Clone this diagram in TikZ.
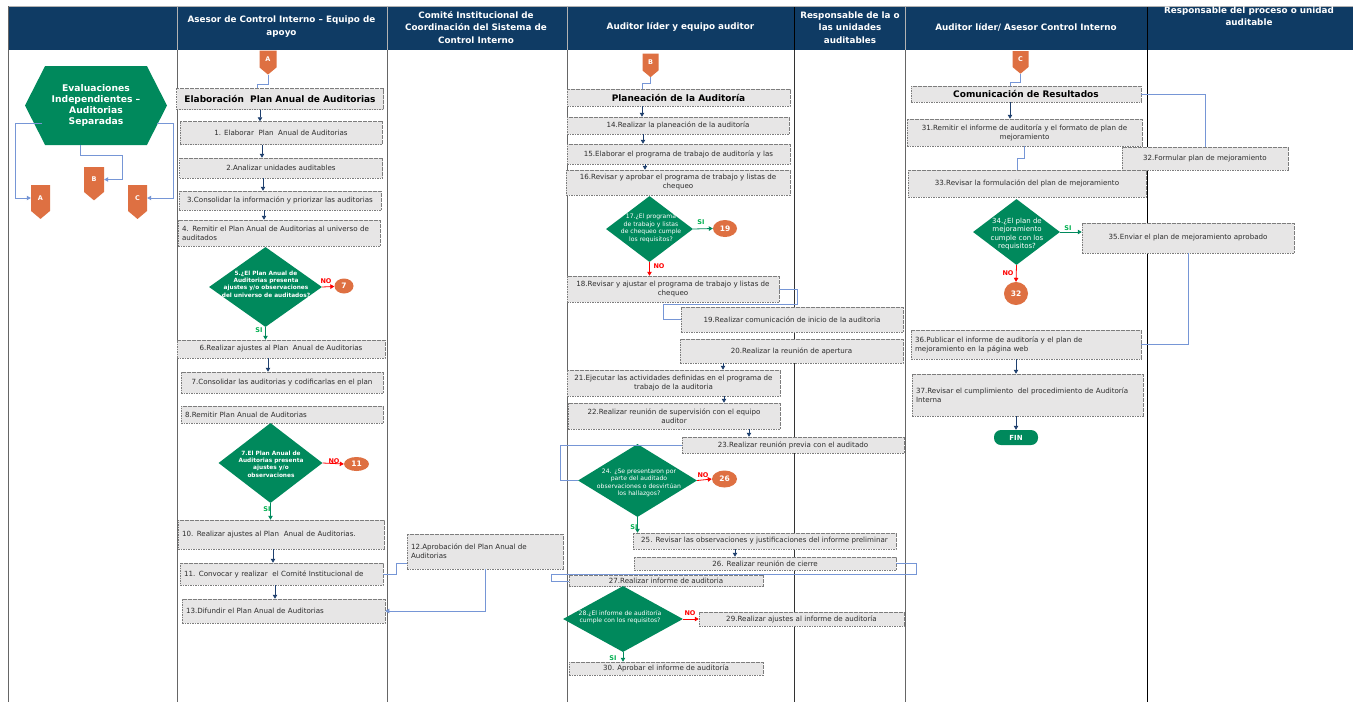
\documentclass[tikz,border=0pt]{standalone}
\usepackage{fontspec}
\setmainfont{DejaVu Sans}
\usetikzlibrary{shapes.geometric, shapes.symbols, arrows.meta}
\definecolor{headblue}{RGB}{15, 59, 100}
\definecolor{flowgreen}{RGB}{0, 137, 92}
\definecolor{connorange}{RGB}{222, 112, 66}
\definecolor{boxgray}{RGB}{231, 230, 230}
\definecolor{dashgray}{RGB}{125, 125, 125}
\definecolor{linkblue}{RGB}{118, 150, 214}
\definecolor{flowblue}{RGB}{31, 64, 110}
\definecolor{yesgreen}{RGB}{0, 176, 80}
\definecolor{txtgray}{RGB}{45, 45, 45}

\begin{document}
\begin{tikzpicture}[
        x=1pt, y=-1pt,
        lane/.style={draw=gray!80!black, line width=0.6pt},
        headtext/.style={text=white, align=center, font=\bfseries\fontsize{8.8}{12.5}\selectfont},
        task/.style={rectangle, draw=dashgray, dash pattern=on 1.6pt off 0.9pt, fill=boxgray, line width=0.5pt, align=center, inner sep=2pt, text=txtgray, font=\fontsize{7.1}{9}\selectfont},
        taskl/.style={task, align=left, inner xsep=4pt},
        phase/.style={task, text=black, font=\bfseries\fontsize{9}{10}\selectfont},
        hexbox/.style={signal, signal to=east and west, signal pointer angle=126, fill=flowgreen, inner sep=0pt, align=center, text=white, font=\bfseries\fontsize{9.2}{11}\selectfont},
        decision/.style={diamond, fill=flowgreen, inner sep=0pt},
        dtext/.style={align=center, text=white, inner sep=0pt, font=\bfseries\fontsize{5.8}{7.3}\selectfont},
        dtextn/.style={align=center, text=white, inner sep=0pt, font=\fontsize{6.1}{7.5}\selectfont},
        offpage/.style={signal, signal to=south, signal from=nowhere, signal pointer angle=100, fill=connorange, inner sep=0pt, text=white, font=\bfseries\fontsize{6.5}{6.5}\selectfont},
        jump/.style={ellipse, fill=connorange, inner sep=0pt, text=white, font=\bfseries\fontsize{7.5}{7.5}\selectfont},
        arrow/.style={-{Triangle[length=4pt, width=4.5pt]}, line width=0.8pt, draw=flowblue},
        link/.style={draw=linkblue, line width=0.7pt},
        linkarrow/.style={link, -{Triangle[length=4pt, width=4.5pt]}},
        noarrow/.style={-{Triangle[length=4pt, width=4.5pt]}, line width=0.8pt, draw=red},
        siarrow/.style={-{Triangle[length=4pt, width=4.5pt]}, line width=0.8pt, draw=flowgreen},
        nolabel/.style={text=red, inner sep=0pt, font=\bfseries\fontsize{6.5}{6.5}\selectfont},
        silabel/.style={text=yesgreen, inner sep=0pt, font=\bfseries\fontsize{6.5}{6.5}\selectfont}
    ]
        \useasboundingbox (0,0) rectangle (1353,702);
        \fill [white] (0,0) rectangle (1353,702);

        % Header
        \fill [headblue] (8,7) rectangle (1353,50);
        \draw [gray!60, line width=1pt] (8,6.5) -- (1353,6.5);
        \draw [gray!60, line width=0.6pt] (177,7) -- (177,50) (387,7) -- (387,50) (567,7) -- (567,50) (905,7) -- (905,50);
        \draw [black, line width=0.8pt] (794,7) -- (794,50) (1147,7) -- (1147,50);
        \node (asesor) [headtext] at (281.5,26.5) {Asesor de Control Interno – Equipo de\\apoyo};
        \node (comite) [headtext] at (476,27.5) {Comité Institucional de\\Coordinación del Sistema de\\Control Interno};
        \node (auditor) [headtext] at (680.5,27) {Auditor líder y equipo auditor};
        \node (responsable) [headtext] at (850,27.5) {Responsable de la o\\las unidades\\auditables};
        \node (lider) [headtext] at (1026,27) {Auditor líder/ Asesor Control Interno};
        \node (proceso) [headtext] at (1249,16) {Responsable del proceso o unidad\\auditable};

        % Lanes
        \draw [lane] (8,6) -- (8,702) (177,50) -- (177,702) (387,50) -- (387,702) (567,50) -- (567,702) (905,50) -- (905,702);
        \draw [lane, draw=gray!40!black] (794,50) -- (794,702);
        \draw [black, line width=0.8pt] (1147,50) -- (1147,702);

        % Column 1
        \node (evaluaciones) [hexbox, minimum width=142pt, minimum height=79pt] at (96,105.5) {Evaluaciones\\Independientes –\\Auditorias\\Separadas};
        \node (outA) [offpage, minimum width=19pt, minimum height=28pt] at (40.5,198) {A};
        \node (outB) [offpage, minimum width=20pt, minimum height=27pt] at (94,179.5) {B};
        \node (outC) [offpage, minimum width=19pt, minimum height=28pt] at (137.5,198) {C};

        % Column 2
        \node (inA) [offpage, minimum width=17pt, minimum height=19pt] at (268,59) {A};
        \node (elaboracion) [phase, minimum width=207pt, minimum height=21pt] at (280,99) {Elaboración\ \ Plan Anual de Auditorias};
        \node (a1) [task, minimum width=202pt, minimum height=23pt] at (281,133) {1. Elaborar\ \ Plan\ \ Anual de Auditorias};
        \node (a2) [task, minimum width=203pt, minimum height=20pt] at (281,168) {2.Analizar unidades auditables};
        \node (a3) [task, minimum width=202pt, minimum height=19pt] at (280,200.5) {3.Consolidar la información y priorizar las auditorias};
        \node (a4) [taskl, text width=194pt, minimum height=26pt] at (279,233) {4. Remitir el Plan Anual de Auditorias al universo de\\auditados};
        \node (q5) [decision, minimum width=113pt, minimum height=80pt] at (265.5,287) {};
        \node (q5t) [dtext] at (266,284) {5.¿El Plan Anual de\\Auditorias presenta\\ajustes y/o observaciones\\del universo de auditados?};
        \node (go7) [jump, minimum width=19pt, minimum height=15pt] at (344,286) {7};
        \node (no5) [nolabel] at (326,281) {NO};
        \node (si5) [silabel] at (259,330) {SI};
        \node (a6) [task, minimum width=208pt, minimum height=18pt] at (281,349) {6.Realizar ajustes al Plan\ \ Anual de Auditorias};
        \node (a7) [task, minimum width=202pt, minimum height=21pt] at (282,382.5) {7.Consolidar las auditorias y codificarlas en el plan};
        \node (a8) [taskl, text width=194pt, minimum height=17pt] at (282,414.5) {8.Remitir Plan Anual de Auditorias};
        \node (q7) [decision, minimum width=104pt, minimum height=80pt] at (270.5,463) {};
        \node (q7t) [dtext] at (271,464) {7.El Plan Anual de\\Auditorias presenta\\ajustes y/o\\observaciones};
        \node (go11) [jump, minimum width=25pt, minimum height=14pt] at (356.5,464) {11};
        \node (no7) [nolabel] at (334,461) {NO};
        \node (si7) [silabel] at (267,509) {SI};
        \node (a10) [taskl, text width=198pt, minimum height=29pt] at (281,534.5) {10. Realizar ajustes al Plan\ \ Anual de Auditorias.};
        \node (a11) [taskl, text width=195pt, minimum height=22pt] at (281.5,574) {11. Convocar y realizar\ \ el Comité Institucional de};
        \node (a13) [taskl, text width=195pt, minimum height=24pt] at (283.5,611) {13.Difundir el Plan Anual de Auditorias};

        % Column 3
        \node (a12) [taskl, text width=148pt, minimum height=35pt] at (485,551.5) {12.Aprobación del Plan Anual de\\Auditorias};

        % Column 4
        \node (inB) [offpage, minimum width=16pt, minimum height=19pt] at (650.5,62) {B};
        \node (planeacion) [phase, minimum width=223pt, minimum height=17pt] at (678.5,97.5) {Planeación de la Auditoría};
        \node (a14) [task, minimum width=222pt, minimum height=17pt] at (678,125.5) {14.Realizar la planeación de la auditoría};
        \node (a15) [task, minimum width=223pt, minimum height=20pt] at (678.5,154) {15.Elaborar el programa de trabajo de auditoría y las};
        \node (a16) [task, minimum width=224pt, minimum height=25pt] at (678,182.5) {16.Revisar y aprobar el programa de trabajo y listas de\\chequeo};
        \node (q17) [decision, minimum width=87pt, minimum height=66pt] at (649.5,229) {};
        \node (q17t) [dtextn] at (651,228.5) {17.¿El programa\\de trabajo y listas\\de chequeo cumple\\los requisitos?};
        \node (go19) [jump, minimum width=24pt, minimum height=17pt] at (725,228.5) {19};
        \node (si17) [silabel] at (701,222) {SI};
        \node (no17) [nolabel] at (659,266) {NO};
        \node (a18) [task, minimum width=212pt, minimum height=26pt] at (673,289) {18.Revisar y ajustar el programa de trabajo y listas de\\chequeo};
        \node (a19) [task, minimum width=222pt, minimum height=25pt] at (792,319.5) {19.Realizar comunicación de inicio de la auditoria};
        \node (a20) [task, minimum width=223pt, minimum height=24pt] at (791.5,351) {20.Realizar la reunión de apertura};
        \node (a21) [task, minimum width=213pt, minimum height=26pt] at (673.5,383) {21.Ejecutar las actividades definidas en el programa de\\trabajo de la auditoria};
        \node (a22) [task, minimum width=212pt, minimum height=26pt] at (674,416) {22.Realizar reunión de supervisión con el equipo\\auditor};
        \node (a23) [task, minimum width=222pt, minimum height=16pt] at (793,445) {23.Realizar reunión previa con el auditado};
        \node (q24) [decision, minimum width=119pt, minimum height=73pt] at (637.5,480.5) {};
        \node (q24t) [dtextn] at (639,483) {24. ¿Se presentaron por\\parte del auditado\\observaciones o desvirtúan\\los hallazgos?};
        \node (go26) [jump, minimum width=25pt, minimum height=17pt] at (724.5,479) {26};
        \node (no24) [nolabel] at (703,475) {NO};
        \node (si24) [silabel] at (634,527) {SI};
        \node (a25) [task, minimum width=263pt, minimum height=16pt] at (764.5,541) {25. Revisar las observaciones y justificaciones del informe preliminar};
        \node (a26) [task, minimum width=262pt, minimum height=13pt, inner ysep=1pt] at (765,563.5) {26. Realizar reunión de cierre};
        \node (a27) [task, minimum width=194pt, minimum height=11pt, inner ysep=0.5pt] at (666,581) {27.Realizar informe de auditoria};
        \node (q28) [decision, minimum width=120pt, minimum height=66pt] at (623,619) {};
        \node (q28t) [dtextn] at (620,617) {28.¿El informe de auditoría\\cumple con los requisitos?};
        \node (no28) [nolabel] at (690,613) {NO};
        \node (a29) [task, minimum width=205pt, minimum height=14pt, inner ysep=1pt] at (801.5,619) {29.Realizar ajustes al informe de auditoría};
        \node (si28) [silabel] at (613,658) {SI};
        \node (a30) [task, minimum width=194pt, minimum height=13pt, inner ysep=1pt] at (666,668.5) {30. Aprobar el informe de auditoría};

        % Column 6 and 7
        \node (inC) [offpage, minimum width=16pt, minimum height=18pt] at (1020.5,59) {C};
        \node (comunicacion) [phase, minimum width=230pt, minimum height=16pt] at (1026,94) {Comunicación de Resultados};
        \node (a31) [task, minimum width=235pt, minimum height=27pt] at (1024.5,132.5) {31.Remitir el informe de auditoría y el formato de plan de\\mejoramiento};
        \node (a32) [task, minimum width=166pt, minimum height=23pt] at (1205,158.5) {32.Formular plan de mejoramiento};
        \node (a33) [task, minimum width=238pt, minimum height=27pt] at (1027,183.5) {33.Revisar la formulación del plan de mejoramiento};
        \node (q34) [decision, minimum width=87pt, minimum height=66pt] at (1016.5,232) {};
        \node (q34t) [dtextn, font=\fontsize{7}{8.3}\selectfont] at (1017,234) {34.¿El plan de\\mejoramiento\\cumple con los\\requisitos?};
        \node (si34) [silabel] at (1068,228) {SI};
        \node (a35) [task, minimum width=212pt, minimum height=30pt] at (1188,238) {35.Enviar el plan de mejoramiento aprobado};
        \node (no34) [nolabel] at (1008,273) {NO};
        \node (go32) [jump, minimum width=24pt, minimum height=23pt] at (1016,293.5) {32};
        \node (a36) [taskl, text width=222pt, minimum height=29pt] at (1026,344.5) {36.Publicar el informe de auditoría y el plan de\\mejoramiento en la página web};
        \node (a37) [taskl, text width=223pt, minimum height=42pt] at (1027.5,395) {37.Revisar el cumplimiento\ \ del procedimiento de Auditoría\\Interna};
        \node (fin) [rectangle, rounded corners=7pt, fill=flowgreen, minimum width=44pt, minimum height=15pt, inner sep=0pt, text=white, font=\bfseries\fontsize{7}{7}\selectfont] at (1016,437.5) {FIN};

        % Off-page links
        \draw [linkarrow] ([shift={(-54,18)}]evaluaciones.center) -| ([xshift=-15pt]outA.west) -- (outA.west);
        \draw [linkarrow] ([xshift=-16pt]evaluaciones.south) -- ++(0,10) -| ([xshift=18pt]outB.east) -- (outB.east);
        \draw [linkarrow] ([shift={(61,18)}]evaluaciones.center) -| ([xshift=26pt]outC.east) -- (outC.east);
        \draw [link] (inA.south) -- ++(0,9.5) -| ([xshift=-23pt]elaboracion.north);
        \draw [link] (inB.south) -- ++(0,6) -| ([xshift=-36.5pt]planeacion.north);
        \draw [link] (inC.south) -- ++(0,8) -| ([xshift=-16pt]comunicacion.north);

        % Column 2 flow
        \draw [arrow] (260,0 |- elaboracion.south) -- (260,0 |- a1.north);
        \draw [arrow] (262,0 |- a1.south) -- (262,0 |- a2.north);
        \draw [arrow] (263,0 |- a2.south) -- (263,0 |- a3.north);
        \draw [arrow] (264,0 |- a3.south) -- (264,0 |- a4.north);
        \draw [noarrow] (q5.east) -- (go7);
        \draw [siarrow] (q5.south) -- (q5.south |- a6.north);
        \draw [arrow] (268,0 |- a6.south) -- (268,0 |- a7.north);
        \draw [noarrow] (q7.east) -- (go11.west);
        \draw [siarrow] (q7.south) -- (q7.south |- a10.north);
        \draw [arrow] (273,0 |- a10.south) -- (273,0 |- a11.north);
        \draw [arrow] (275,0 |- a11.south) -- (275,0 |- a13.north);
        \draw [link] (a11.east) -| (396,563) -- (a12.west |- 0,563);
        \draw [linkarrow] (a12.south) |- (a13.east);

        % Column 4 flow
        \draw [arrow] (642,0 |- planeacion.south) -- (642,0 |- a14.north);
        \draw [arrow] (643,0 |- a14.south) -- (643,0 |- a15.north);
        \draw [arrow] (645,0 |- a15.south) -- (645,0 |- a16.north);
        \draw [siarrow] (q17.east) -- (go19.west);
        \draw [noarrow] (q17.south) -- (q17.south |- a18.north);
        \draw [link] (a18.east) -| (797,304) -| (663,319.5) -- (a19.west);
        \draw [arrow] (723,0 |- a20.south) -- (723,0 |- a21.north);
        \draw [arrow] (724,0 |- a21.south) -- (724,0 |- a22.north);
        \draw [arrow] (749,0 |- a22.south) -- (749,0 |- a23.north);
        \draw [link] (a23.west) -| (560,480.5) -- (q24.west);
        \draw [noarrow] (q24.east) -- (go26.west);
        \draw [siarrow] (q24.south) -- (q24.south |- a25.north);
        \draw [arrow] (735,0 |- a25.south) -- (735,0 |- a26.north);
        \draw [link] (a26.east) -| (916,574) -| (551,581) -- (a27.west);
        \draw [noarrow] (q28.east) -- (a29.west);
        \draw [siarrow] (q28.south) -- (q28.south |- a30.north);

        % Column 6 flow
        \draw [arrow] (1010,0 |- comunicacion.south) -- (1010,0 |- a31.north);
        \draw [link] (comunicacion.east) -| (a32.north);
        \draw [link] (a31.south) -- ++(0,12.5) -| ([xshift=-10pt]a33.north);
        \draw [siarrow] (q34.east) -- (a35.west |- q34.east);
        \draw [noarrow] (q34.south) -- (go32.north);
        \draw [link] (a35.south) |- (a36.east);
        \draw [arrow] (1016,0 |- a36.south) -- (1016,0 |- a37.north);
        \draw [arrow] (1016,0 |- a37.south) -- (fin.north);
    \end{tikzpicture}
\end{document}
